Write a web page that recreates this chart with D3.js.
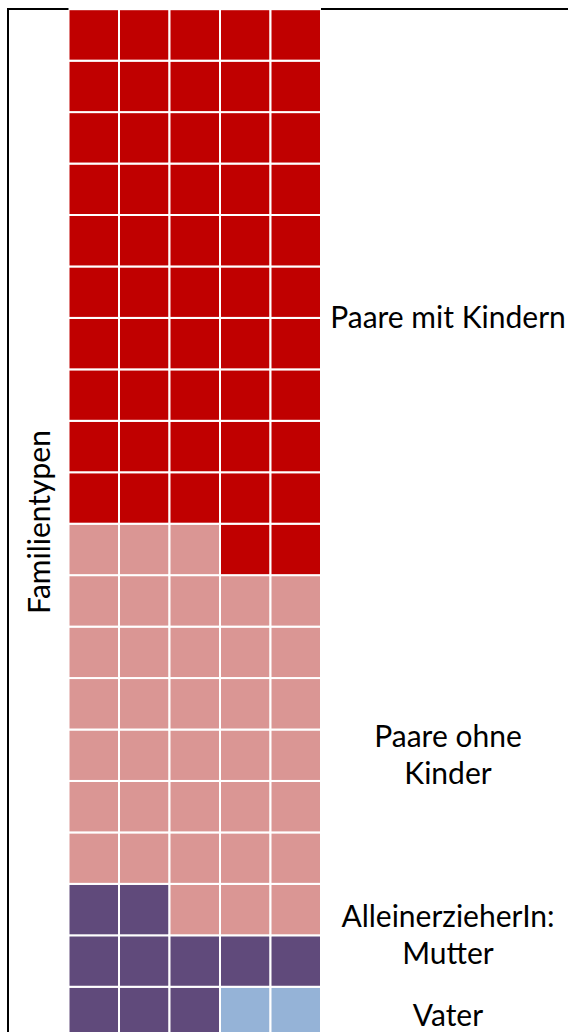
<!DOCTYPE html>
<html>
<head>
<meta charset="utf-8">
<script src="https://cdn.jsdelivr.net/npm/d3@7"></script>
<style>
  body { margin: 0; background: #fff; }
  text { font-family: Lato, "Open Sans", sans-serif; fill: #000; }
</style>
</head>
<body>
<div id="chart"></div>
<script>
// waffle: 5 columns, each one a stack of unit cells from the bottom up
const columns = ["c1", "c2", "c3", "c4", "c5"];
const keys = ["Vater", "Mutter", "ohne", "mit"];
const vater  = [0, 0, 0, 1, 1];
const mutter = [3, 3, 2, 1, 1];
const ohne   = [7, 7, 8, 7, 7];
const mit    = [10, 10, 10, 11, 11];
const colors = ["#95b3d7", "#604a7b", "#da9694", "#c00000"];
const rowsTotal = 20;

const labels = [
    { lines: ["Paare mit Kindern"], row: 6.0 },
    { lines: ["Paare ohne", "Kinder"], row: 14.5 },
    { lines: ["AlleinerzieherIn:", "Mutter"], row: 18.0 },
    { lines: ["Vater"], row: 19.55 }
];

const width = 568, height = 1032;
const gridLeft = 68.5, gridRight = 321, gridTop = 9.2;
const rowH = 51.45;

const data = columns.map((c, i) => ({
    col: c, Vater: vater[i], Mutter: mutter[i], ohne: ohne[i], mit: mit[i]
}));

const svg = d3.select("#chart")
    .append("svg")
    .attr("width", width)
    .attr("height", height);

const xScale = d3.scaleBand()
    .domain(columns)
    .range([gridLeft, gridRight])
    .padding(0);

const yScale = d3.scaleLinear()
    .domain([rowsTotal, 0])
    .range([gridTop, gridTop + rowsTotal * rowH]);

const stack = d3.stack().keys(keys)(data);

// unit cells for every stacked segment
const cells = [];
stack.forEach((layer, k) => {
    layer.forEach((seg, i) => {
        for (let v = seg[0]; v < seg[1]; v++) {
            cells.push({ col: columns[i], v: v, k: k });
        }
    });
});

svg.append("g")
    .selectAll("rect")
    .data(cells)
    .enter()
    .append("rect")
    .attr("x", d => xScale(d.col))
    .attr("y", d => yScale(d.v + 1))
    .attr("width", xScale.bandwidth())
    .attr("height", yScale(0) - yScale(1))
    .attr("fill", d => colors[d.k])
    .attr("stroke", "#fff")
    .attr("stroke-width", 2);

// frame
svg.append("path")
    .attr("d", `M8,${height} V9 H${gridLeft}`)
    .attr("fill", "none")
    .attr("stroke", "#000")
    .attr("stroke-width", 2);
svg.append("path")
    .attr("d", `M${gridRight},9 H${width}`)
    .attr("fill", "none")
    .attr("stroke", "#000")
    .attr("stroke-width", 2);

// category labels
const labelX = 448;
labels.forEach(l => {
    const yc = yScale(rowsTotal - l.row);
    const t = svg.append("text")
        .attr("text-anchor", "middle")
        .style("font-size", "30px");
    l.lines.forEach((s, j) => {
        t.append("tspan")
            .attr("x", labelX)
            .attr("y", yc + 10.5 + (j - (l.lines.length - 1) / 2) * 37)
            .text(s);
    });
});

svg.append("text")
    .text("Familientypen")
    .attr("transform", "translate(50,522) rotate(-90)")
    .attr("text-anchor", "middle")
    .style("font-size", "30px");
</script>
</body>
</html>
